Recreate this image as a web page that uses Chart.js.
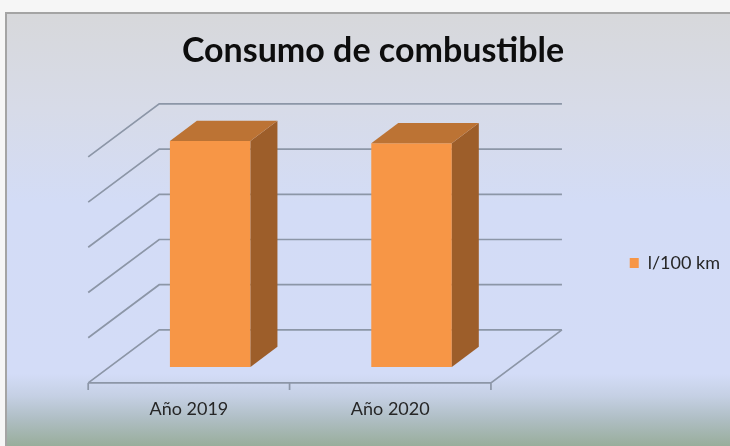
<!DOCTYPE html>
<html>
<head>
<meta charset="utf-8">
<script src="https://cdn.jsdelivr.net/npm/chart.js@4.4.1/dist/chart.umd.min.js"></script>
<style>
  html, body { margin: 0; padding: 0; background: #f6f6f6; overflow: hidden; }
  #frame {
    position: absolute; left: 5px; top: 12px; width: 740px; height: 440px;
    border-left: 2px solid #a4a4a4; border-top: 2px solid #a4a4a4;
    background: linear-gradient(to bottom, #d7d8db 0px, #d7dbe8 95px, #d3dcf6 190px,
      #d3dcf7 360px, #c5d0e4 382px, #afbec4 405px, #97ac98 434px);
  }
  #c { position: absolute; left: 0; top: 0; }
</style>
</head>
<body>
<div id="frame"></div>
<canvas id="c" width="730" height="446"></canvas>
<script>
// data
const categories = ['Año 2019', 'Año 2020'];
const seriesName = 'l/100 km';
const consumo = [5.0, 4.95];
const yMax = 5;
const yStep = 1;

// 3D look: full depth of the floor, where the bars stand, bar thickness
const DX = 71, DY = 53;
const FRONT = 0.3;
const BAR_DEPTH = 0.38;
const TITLE_CENTER = 373;

const box3d = {
  id: 'box3d',
  afterLayout(chart) {
    // title is centred a bit left of the chart's centre in the original
    const t = chart.titleBlock;
    if (t) {
      const half = (t.right - t.left) / 2;
      t.left = TITLE_CENTER - half;
      t.right = TITLE_CENTER + half;
    }
  },
  beforeDatasetsDraw(chart) {
    const { ctx, scales: { x, y } } = chart;
    const bx = (1 - FRONT) * DX, by = (1 - FRONT) * DY;
    ctx.save();
    ctx.strokeStyle = '#8c96a7';
    ctx.lineWidth = 1.7;
    ctx.beginPath();
    // back wall + left wall
    y.ticks.forEach(t => {
      const py = y.getPixelForValue(t.value) - by;
      ctx.moveTo(x.right + bx, py);
      ctx.lineTo(x.left + bx, py);
      ctx.lineTo(x.left + bx - DX, py + DY);
    });
    // floor outline
    const fy = y.getPixelForValue(0) + FRONT * DY;
    const fl = x.left - FRONT * DX, fr = x.right - FRONT * DX;
    ctx.moveTo(fl, fy);
    ctx.lineTo(fr, fy);
    ctx.lineTo(fr + DX, fy - DY);
    // tick marks under the floor
    for (let i = 0; i <= categories.length; i++) {
      const tx = fl + (fr - fl) * i / categories.length;
      ctx.moveTo(tx, fy);
      ctx.lineTo(tx, fy + 7);
    }
    ctx.stroke();
    ctx.restore();
  },
  afterDatasetsDraw(chart) {
    const ctx = chart.ctx;
    const ox = BAR_DEPTH * DX, oy = BAR_DEPTH * DY;
    ctx.save();
    chart.getDatasetMeta(0).data.forEach(bar => {
      const { x, y, base, width } = bar.getProps(['x', 'y', 'base', 'width'], true);
      const l = x - width / 2, r = x + width / 2;
      // side
      ctx.fillStyle = '#9d5e2a';
      ctx.beginPath();
      ctx.moveTo(r, y);
      ctx.lineTo(r + ox, y - oy);
      ctx.lineTo(r + ox, base - oy);
      ctx.lineTo(r, base);
      ctx.closePath();
      ctx.fill();
      // top
      ctx.fillStyle = '#bc7334';
      ctx.beginPath();
      ctx.moveTo(l, y);
      ctx.lineTo(l + ox, y - oy);
      ctx.lineTo(r + ox, y - oy);
      ctx.lineTo(r, y);
      ctx.closePath();
      ctx.fill();
    });
    ctx.restore();
  }
};

// legend sits at x=631, chart plane ends at 513.5
const legendPad = 117.5;
const mctx = document.createElement('canvas').getContext('2d');
mctx.font = '18px Lato';
const textW = mctx.measureText(seriesName).width;
const padRight = Math.max(0, 730 - 513.5 - (legendPad + 9 + 9 + textW + 10));

new Chart(document.getElementById('c'), {
  type: 'bar',
  data: {
    labels: categories,
    datasets: [{
      label: seriesName,
      data: consumo,
      backgroundColor: '#f79646',
      borderWidth: 0,
      categoryPercentage: 1,
      barPercentage: 0.4
    }]
  },
  options: {
    responsive: false,
    animation: false,
    devicePixelRatio: 1,
    layout: { padding: { left: 109.5, right: padRight, top: 0, bottom: -4.6 } },
    scales: {
      x: {
        grid: { display: false, drawTicks: false },
        border: { display: false },
        ticks: {
          padding: 31,
          labelOffset: -21.3,
          color: '#262626',
          font: { family: 'Lato', size: 18 }
        }
      },
      y: {
        display: false,
        min: 0,
        max: yMax,
        ticks: { stepSize: yStep }
      }
    },
    plugins: {
      title: {
        display: true,
        text: 'Consumo de combustible',
        color: '#0d0d0d',
        font: { family: 'Lato', size: 34, weight: 'bold', lineHeight: 1.2 },
        padding: { top: 31, bottom: 69.2 }
      },
      legend: {
        position: 'right',
        fullSize: false,
        title: { display: true, text: ' ', font: { size: 10, lineHeight: 1.2 }, padding: { top: 3, bottom: 3 } },
        labels: {
          boxWidth: 9,
          boxHeight: 10,
          padding: legendPad,
          color: '#262626',
          font: { family: 'Lato', size: 18 }
        }
      },
      tooltip: { enabled: false }
    }
  },
  plugins: [box3d]
});
</script>
</body>
</html>
